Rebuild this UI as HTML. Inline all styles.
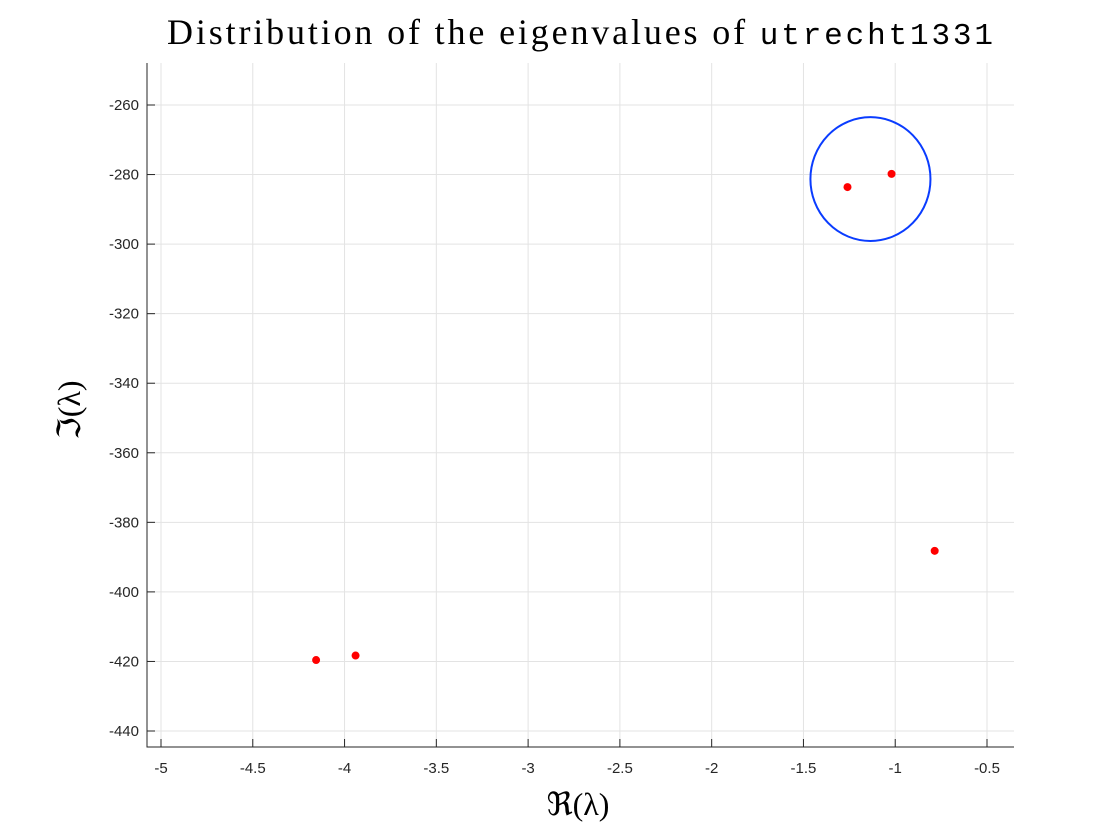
<!DOCTYPE html>
<html><head><meta charset="utf-8"><style>
body{margin:0;background:#fff;width:1120px;height:840px;overflow:hidden}
svg{display:block}
.tick{font-family:"Liberation Sans",sans-serif;font-size:15px;fill:#262626}
</style></head><body>
<svg width="1120" height="840">
<g id="grid"></g>
<g id="ticks"></g>
<g id="marks"></g>
<text x="580" y="44" text-anchor="middle" font-family="Liberation Serif,serif" font-size="36" fill="#000" textLength="826">Distribution of the eigenvalues of <tspan font-family="Liberation Mono,monospace" font-size="31">utrecht1331</tspan></text>
<text x="578" y="815" text-anchor="middle" font-family="Liberation Serif,serif" font-size="32" fill="#000">ℜ(λ)</text>
<text transform="translate(80,410) rotate(-90)" text-anchor="middle" font-family="Liberation Serif,serif" font-size="32" fill="#000">ℑ(λ)</text>
</svg>
<script>
const xTicks=[-5,-4.5,-4,-3.5,-3,-2.5,-2,-1.5,-1,-0.5];
const yTicks=[-260,-280,-300,-320,-340,-360,-380,-400,-420,-440];
const reVals=[-4.155,-3.94,-0.785,-1.26,-1.02];
const imVals=[-419.6,-418.3,-388.2,-283.6,-279.8];
const circleCenter=[-1.135,-281.3];
const circleRadius=[0.327,17.8];
const L=147,R=1014,T=63,B=747;
const sx=v=>161+(v+5)*(987-161)/4.5;
const sy=v=>105+(-260-v)*(731-105)/180;
const NS="http://www.w3.org/2000/svg";
function mk(t,a,p){const e=document.createElementNS(NS,t);for(const k in a)e.setAttribute(k,a[k]);p.appendChild(e);return e;}
const grid=document.getElementById('grid'),ticks=document.getElementById('ticks'),marks=document.getElementById('marks');
xTicks.forEach(v=>{const x=sx(v);
 const g=mk('line',{x1:x,x2:x,y1:T,y2:B,stroke:'#e3e3e3','stroke-width':1},grid);
 
 
 const tk=mk('line',{x1:x,x2:x,y1:B,y2:B-8,stroke:'#262626'},ticks);
 
 
 const t=mk('text',{x:x,y:B+26,'text-anchor':'middle',class:'tick'},ticks);t.textContent=v;
 
 });
yTicks.forEach(v=>{const y=sy(v);
 const g=mk('line',{x1:L,x2:R,y1:y,y2:y,stroke:'#e3e3e3','stroke-width':1},grid);
 
 
 const tk=mk('line',{x1:L,x2:L+8,y1:y,y2:y,stroke:'#262626'},ticks);
 
 
 const t=mk('text',{x:L-8,y:y+5,'text-anchor':'end',class:'tick'},ticks);t.textContent=v;
 
 });
const ax=mk('path',{d:`M${L},${T}V${B}H${R}`,stroke:'#262626',fill:'none','stroke-width':1},ticks);


const c=mk('ellipse',{cx:sx(circleCenter[0]),cy:sy(circleCenter[1]),rx:sx(circleCenter[0]+circleRadius[0])-sx(circleCenter[0]),ry:sy(circleCenter[1]-circleRadius[1])-sy(circleCenter[1]),fill:'none',stroke:'#0a3cff','stroke-width':2},marks);


reVals.forEach((r,i)=>{const p=mk('circle',{cx:sx(r),cy:sy(imVals[i]),r:4,fill:'#ff0000'},marks);
 
 });
</script>
</body></html>
